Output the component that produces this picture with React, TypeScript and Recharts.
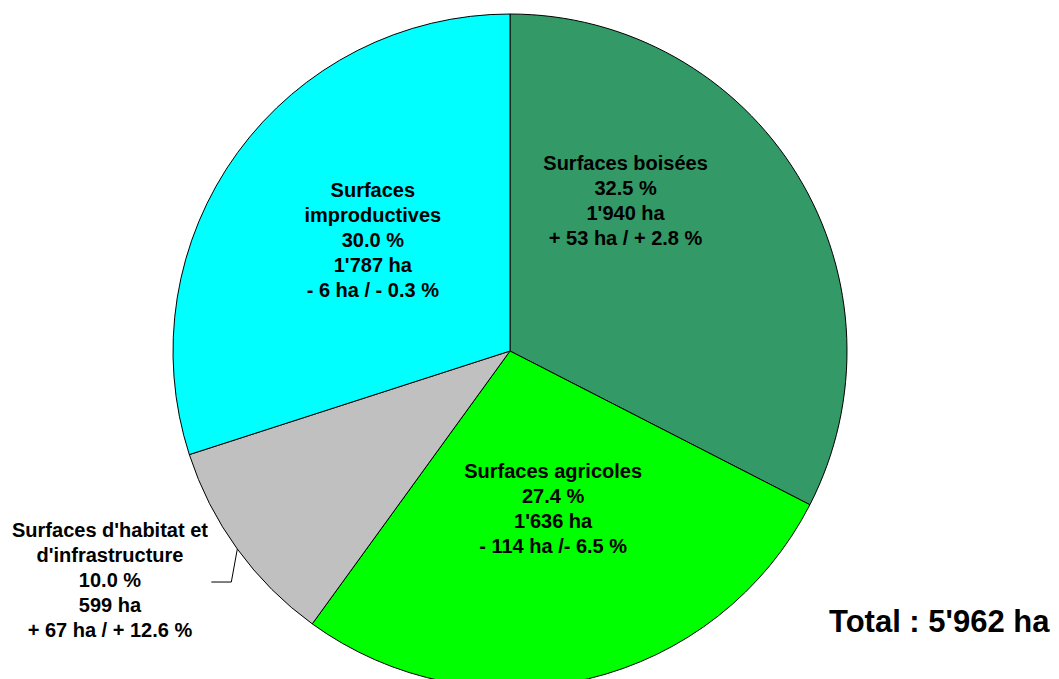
import React from "react";
import { PieChart, Pie, Cell } from "recharts";

const categories = [
  "Surfaces boisées",
  "Surfaces agricoles",
  "Surfaces d'habitat et d'infrastructure",
  "Surfaces improductives",
];
const areaHa = [1940, 1636, 599, 1787];
const percentLabels = ["32.5 %", "27.4 %", "10.0 %", "30.0 %"];
const haLabels = ["1'940 ha", "1'636 ha", "599 ha", "1'787 ha"];
const changeLabels = [
  "+ 53 ha / + 2.8 %",
  "- 114 ha /- 6.5 %",
  "+ 67 ha / + 12.6 %",
  "- 6 ha / - 0.3 %",
];
const nameLines = [
  ["Surfaces boisées"],
  ["Surfaces agricoles"],
  ["Surfaces d'habitat et", "d'infrastructure"],
  ["Surfaces", "improductives"],
];
const totalLabel = "Total : 5'962 ha";

const colors = ["#339966", "#00FF00", "#C0C0C0", "#00FFFF"];
// label anchor as fraction of outer radius (style)
const labelAnchors = [
  { fx: 0.343, fy: -0.448 },
  { fx: 0.128, fy: 0.466 },
  { fx: -1.187, fy: 0.68 },
  { fx: -0.407, fy: -0.329 },
];

const data = categories.map((name, i) => ({ name, value: areaHa[i] }));

const RAD = Math.PI / 180;
const LINE_H = 25;

const renderLabel = (props: any) => {
  const { cx, cy, outerRadius, index, midAngle } = props;
  const a = labelAnchors[index];
  const x = cx + outerRadius * a.fx;
  const y = cy + outerRadius * a.fy;
  const lines = [...nameLines[index], percentLabels[index], haLabels[index], changeLabels[index]];
  const n = lines.length;
  const top = y - ((n - 1) * LINE_H) / 2;
  const elems: any[] = [];
  if (index === 2) {
    const ex = cx + outerRadius * Math.cos(-midAngle * RAD);
    const ey = cy + outerRadius * Math.sin(-midAngle * RAD);
    elems.push(
      <polyline
        key="leader"
        points={`${ex},${ey} ${ex - 6},${ey + 33} ${ex - 26},${ey + 33}`}
        fill="none"
        stroke="#000"
        strokeWidth={1}
      />
    );
  }
  return (
    <g>
      {elems}
      {lines.map((t, i) => (
        <text
          key={i}
          x={x}
          y={top + i * LINE_H}
          textAnchor="middle"
          dominantBaseline="central"
          fontFamily="'Liberation Sans', Arial, sans-serif"
          fontWeight="bold"
          fontSize={20}
          fill="#000"
        >
          {t}
        </text>
      ))}
    </g>
  );
};

export default function App() {
  return (
    <div style={{ position: "absolute", left: 0, top: 0, width: 1059, height: 679, background: "#fff" }}>
      <PieChart width={1059} height={679} margin={{ top: 0, right: 0, bottom: 0, left: 0 }}>
        <Pie
          data={data}
          dataKey="value"
          cx={510}
          cy={351}
          outerRadius={337}
          startAngle={90}
          endAngle={-270}
          stroke="#000"
          strokeWidth={1}
          label={renderLabel}
          labelLine={false}
          isAnimationActive={false}
        >
          {data.map((d, i) => (
            <Cell key={d.name} fill={colors[i]} />
          ))}
        </Pie>
        <text
          x={829}
          y={632}
          fontFamily="'Liberation Sans', Arial, sans-serif"
          fontWeight="bold"
          fontSize={31}
          fill="#000"
        >
          {totalLabel}
        </text>
      </PieChart>
    </div>
  );
}
